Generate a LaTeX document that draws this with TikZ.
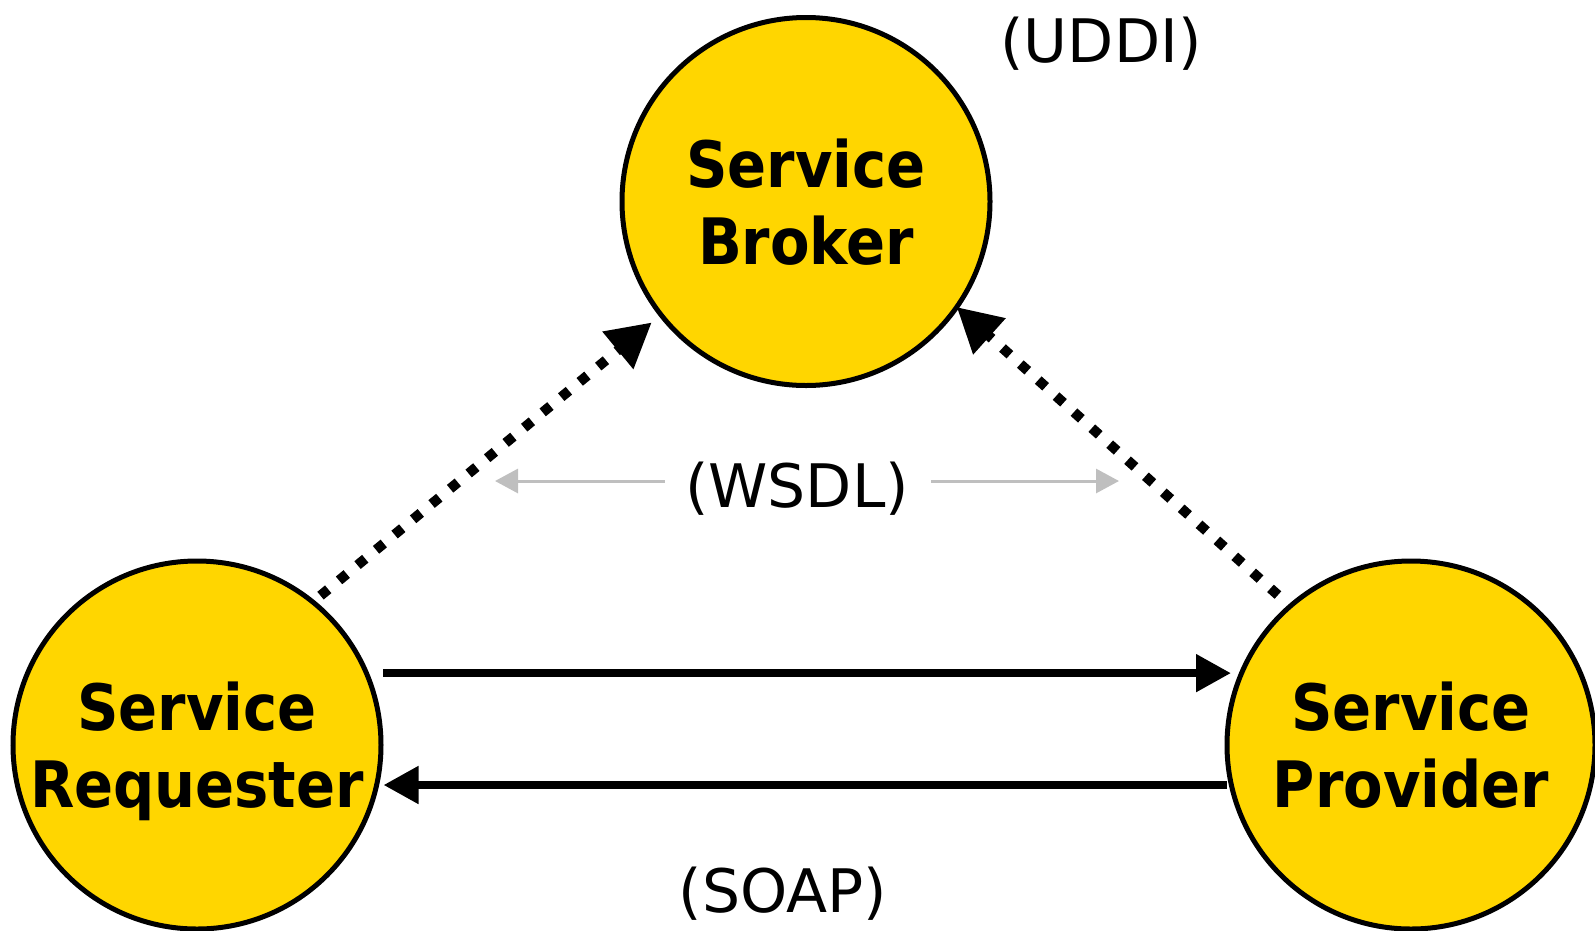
\documentclass[tikz,border=0pt]{standalone}
\usepackage{fontspec}
\setmainfont{DejaVu Sans}
\newfontfamily\condensedfont{DejaVu Sans Condensed}
\usetikzlibrary{arrows.meta}

\begin{document}
\begin{tikzpicture}
		[x=1pt,y=-1pt,line cap=butt,
		%Styles
		role/.style={circle,draw=black,line width=5pt,fill=rolefill,minimum size=368pt,inner sep=0pt,outer sep=0pt,align=center,text depth=0pt,font=\condensedfont\bfseries\fontsize{64}{77}\selectfont},
		protocol/.style={inner sep=0pt,anchor=base,font=\fontsize{60}{72}\selectfont},
		message/.style={line width=8pt,-{Triangle[length=35pt,width=36pt]}},
		lookup/.style={line width=10pt,dash pattern=on 10pt off 14pt,-{Triangle[length=44pt,width=46pt]}},
		hint/.style={line width=3pt,draw=hintcolor,-{Triangle[length=23pt,width=24pt]}}
		]
		
		%Colors
		\definecolor{rolefill}{RGB}{255,214,0}	%circles
		\definecolor{hintcolor}{RGB}{191,191,191}	%WSDL arrows
		
		\useasboundingbox (0,0) rectangle (1595,930);
		
		%The graphic
		\node[role] (broker) at (806,201.5) {Service\\Broker};
		\node[role] (requester) at (197,745) {Service\\Requester};
		\node[role] (provider) at (1411,745) {Service\\Provider};
		
		\node[protocol] (uddi) at (1101,62) {(UDDI)};
		\node[protocol] (wsdl) at (797,507) {(WSDL)};
		\node[protocol] (soap) at (783,912) {(SOAP)};
		\coordinate (wsdlleft) at (495,481);
		\coordinate (wsdlright) at (1119,481);
		\coordinate (sendtip) at (1231,673);
		\coordinate (replytip) at (383.5,785);
		
		\draw[message] ([xshift=17pt]requester.23) -- (requester.23 -| sendtip);
		\draw[message] (provider.west |- replytip) -- (replytip);
		\draw[lookup,shorten <=10pt,shorten >=12pt] (requester.51.5) -- (broker.218.5);
		\draw[lookup,shorten <=16.6pt] (provider.131.2) -- (broker.325.6);
		\draw[hint] (wsdl.west |- wsdlleft) ++(-20pt,0pt) -- (wsdlleft);
		\draw[hint] (wsdl.east |- wsdlright) ++(22pt,0pt) -- (wsdlright);
	\end{tikzpicture}
\end{document}
